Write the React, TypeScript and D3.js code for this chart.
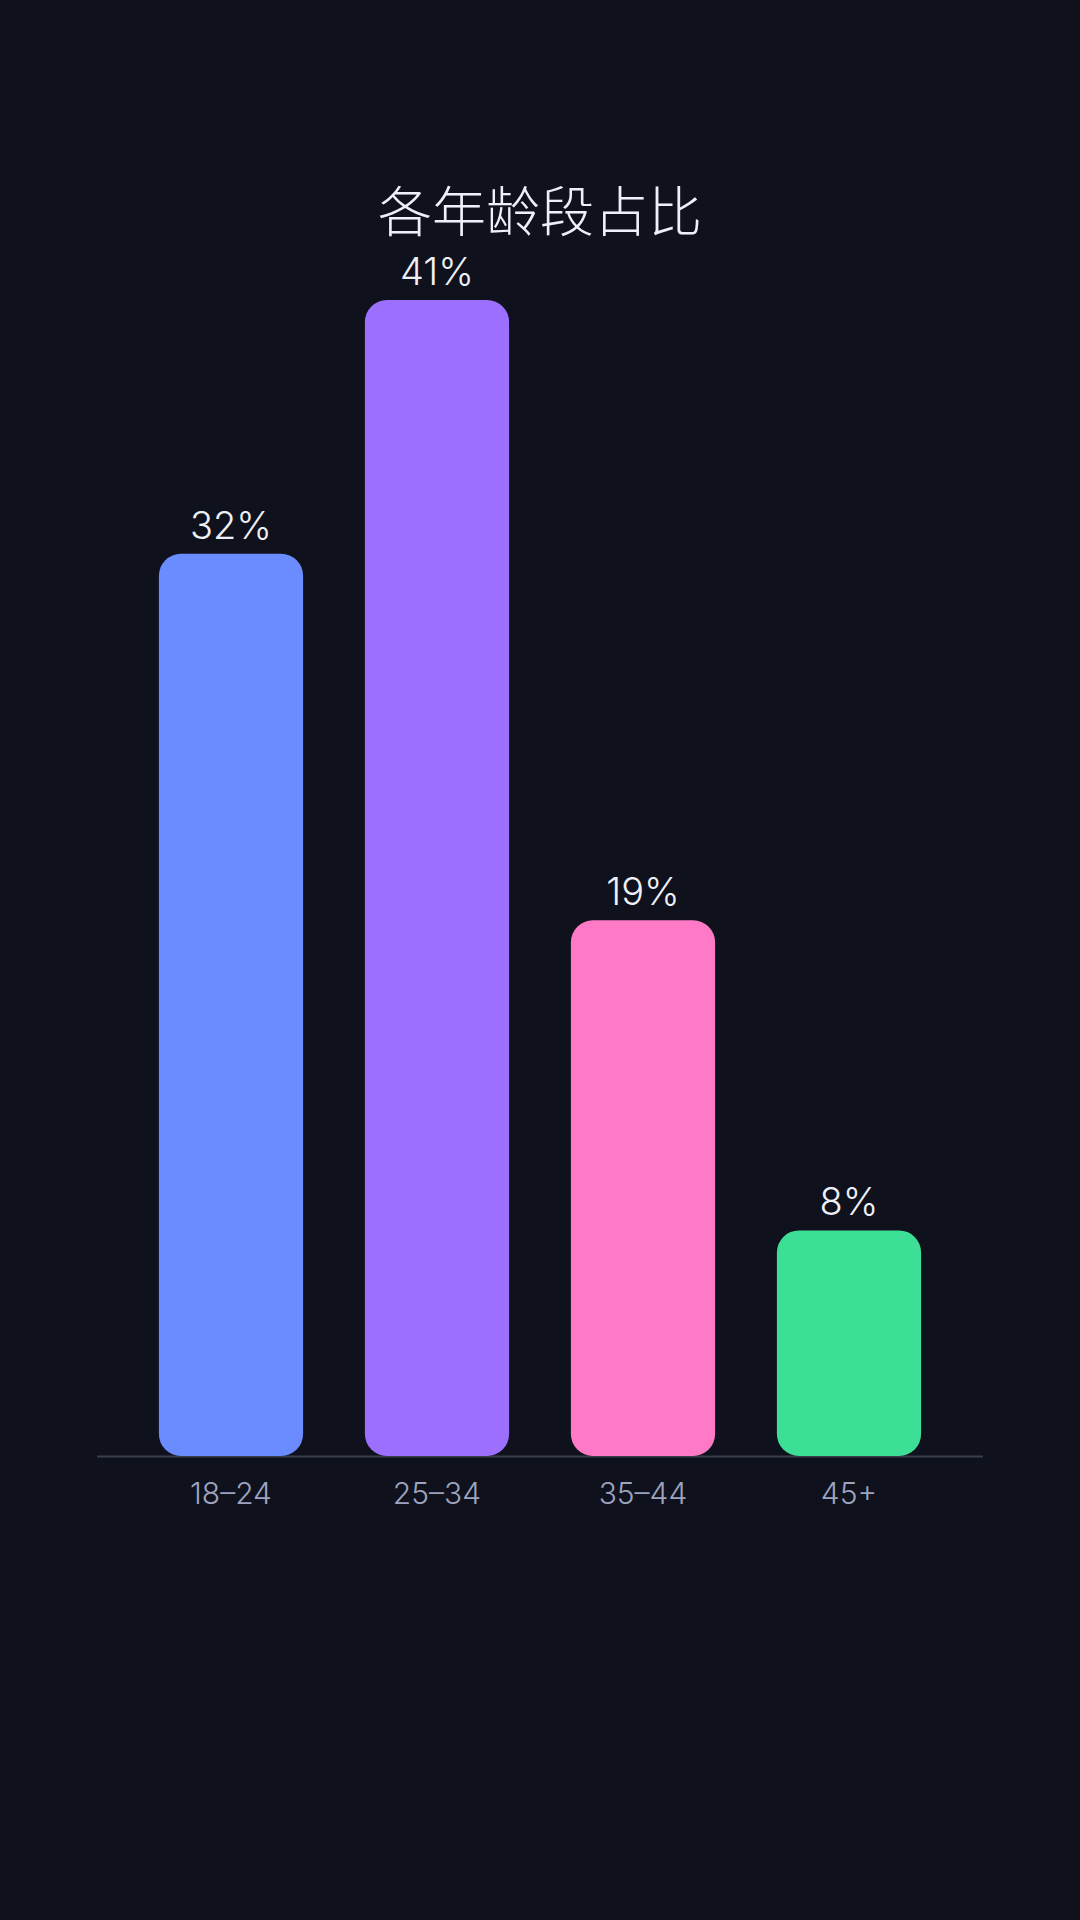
import * as React from 'react';
import * as d3 from 'd3';

const title = '各年龄段占比';
const ageGroups = ['18–24', '25–34', '35–44', '45+'];
const shares = [32, 41, 19, 8];
const barColors = ['#6b8cff', '#9d6fff', '#ff7ac6', '#3ddf97'];

const W = 1080;
const H = 1920;
const baseY = 1456;
const topY = 300;

const App = () => {
    const x = d3.scaleBand<string>()
        .domain(ageGroups)
        .range([128, 952])
        .paddingInner(0.3)
        .paddingOuter(0.15);

    const y = d3.scaleLinear()
        .domain([0, d3.max(shares) as number])
        .range([baseY, topY]);

    const font = 'Inter, "Noto Sans", sans-serif';

    return (
        <svg width={W} height={H} style={{ position: 'absolute', left: 0, top: 0, display: 'block' }}>
            <rect x={0} y={0} width={W} height={H} fill="#0f111c" />
            <line x1={97} x2={983} y1={baseY + 0.5} y2={baseY + 0.5} stroke="#3a3d4c" strokeWidth={2} />
            <text
                x={W / 2}
                y={232}
                textAnchor="middle"
                fill="#eef0f7"
                fontSize={54}
                fontWeight={300}
                fontFamily='"Noto Sans CJK SC", sans-serif'
            >
                {title}
            </text>
            {ageGroups.map((g, i) => {
                const bx = x(g) as number;
                const by = y(shares[i]);
                return (
                    <g key={g}>
                        <rect
                            x={bx}
                            y={by}
                            width={x.bandwidth()}
                            height={baseY - by}
                            rx={22}
                            ry={22}
                            fill={barColors[i]}
                        />
                        <text
                            x={bx + x.bandwidth() / 2}
                            y={by - 15}
                            textAnchor="middle"
                            fill="#eef0f7"
                            fontSize={38}
                            fontWeight={300}
                            fontFamily={font}
                        >
                            {shares[i] + '%'}
                        </text>
                        <text
                            x={bx + x.bandwidth() / 2}
                            y={baseY + 48}
                            textAnchor="middle"
                            fill="#9ea4c0"
                            fontSize={30}
                            fontWeight={300}
                            fontFamily={font}
                        >
                            {g}
                        </text>
                    </g>
                );
            })}
        </svg>
    );
};

export default App;
